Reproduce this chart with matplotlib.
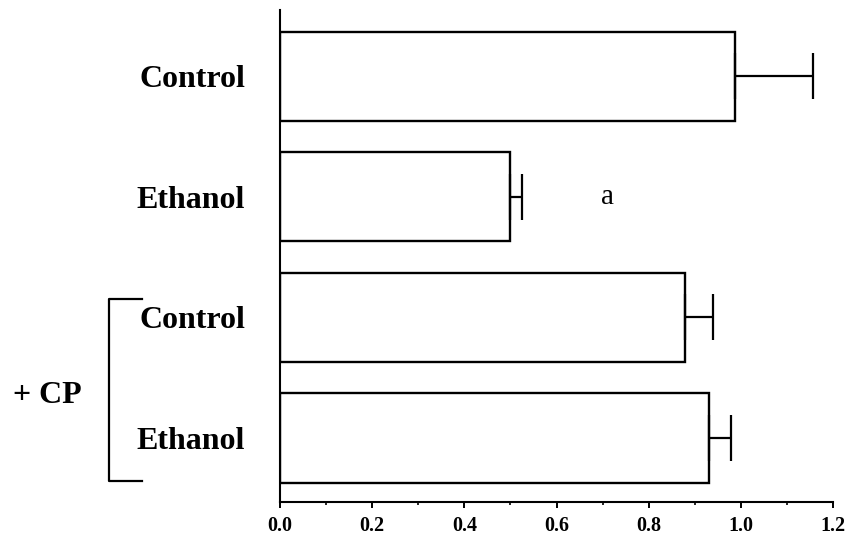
import matplotlib
matplotlib.use("Agg")
import matplotlib.pyplot as plt
from matplotlib.ticker import MultipleLocator
from matplotlib.transforms import blended_transform_factory

labels = ["Control", "Ethanol", "Control", "Ethanol"]
values = [0.987, 0.499, 0.879, 0.931]
errors = [0.169, 0.026, 0.060, 0.048]
group_label = "+ CP"
sig_label = "a"

plt.rcParams['font.family'] = ['Liberation Serif', 'DejaVu Serif']

fig = plt.figure(figsize=(8.48, 5.42), dpi=100)
ax = fig.add_axes([0.3302, 0.074, 0.6521, 0.9075])

pos = list(range(len(labels)))
ax.barh(pos, values, height=0.74, color="white", edgecolor="black", linewidth=1.7)
ax.errorbar(values, pos, xerr=[[0] * len(errors), errors], fmt="none",
            ecolor="black", elinewidth=1.6, capsize=16.5, capthick=1.6)

ax.set_xlim(0, 1.2)
ax.set_ylim(3.53, -0.55)
ax.xaxis.set_major_locator(MultipleLocator(0.2))
ax.xaxis.set_minor_locator(MultipleLocator(0.1))
ax.set_xticklabels([f"{t:.1f}" for t in ax.get_xticks()], fontsize=14.5, fontweight="bold")
ax.tick_params(axis="x", which="major", direction="out", length=4, width=1.4, pad=6)
ax.tick_params(axis="x", which="minor", direction="out", length=2, width=1.2)

ax.set_yticks(pos)
ax.set_yticklabels(labels, fontsize=23, fontweight="bold")
ax.tick_params(axis="y", length=0, pad=25)

for s in ["top", "right"]:
    ax.spines[s].set_visible(False)
for s in ["left", "bottom"]:
    ax.spines[s].set_linewidth(1.5)

# significance letter
ax.text(0.71, 1.0, sig_label, fontsize=21, ha="center", va="center")

# bracket for + CP group
tr = blended_transform_factory(ax.transAxes, ax.transData)
ax.plot([-0.2495, -0.309, -0.309, -0.2495], [1.85, 1.85, 3.36, 3.36],
        color="black", linewidth=1.6, transform=tr, clip_on=False)
ax.text(-0.421, 2.65, group_label, fontsize=23, fontweight="bold",
        ha="center", va="center", transform=tr)

fig.savefig("out.png", dpi=100)
